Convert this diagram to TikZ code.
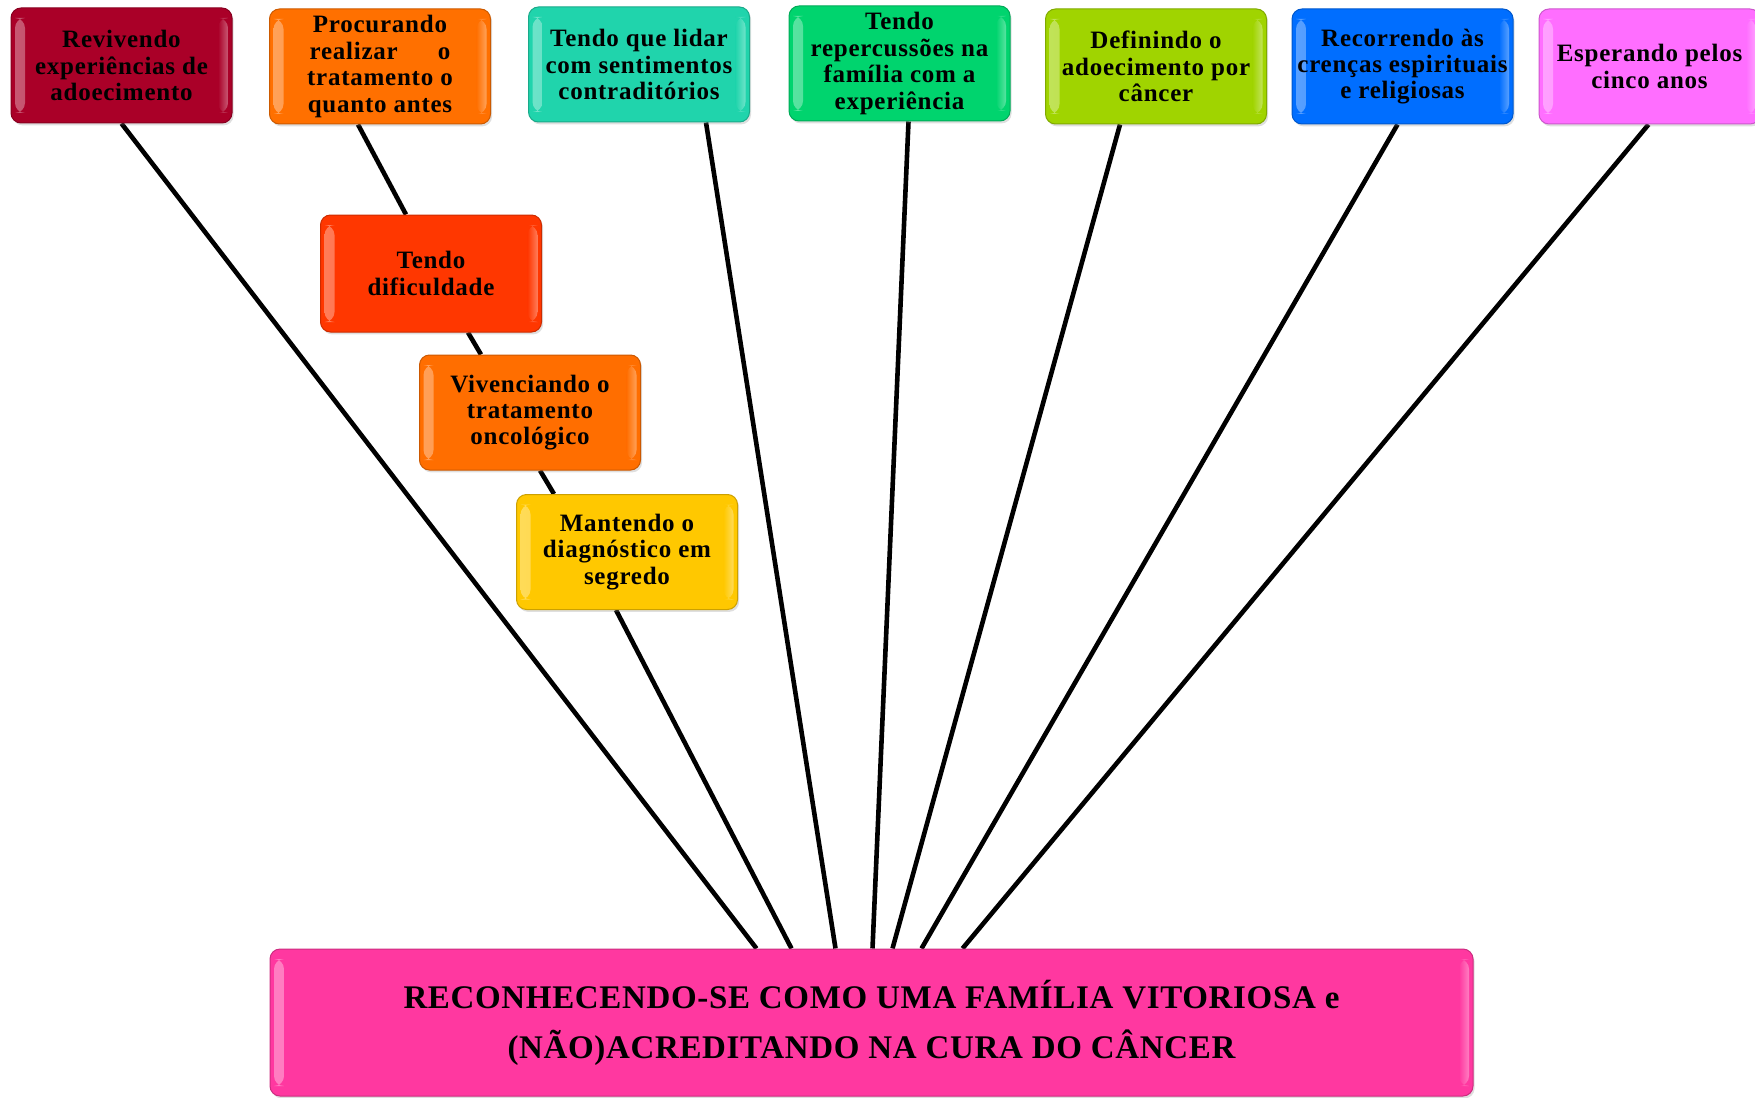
\documentclass[tikz,border=0pt]{standalone}
\usepackage{fontspec}
\setmainfont{Liberation Serif}
\usetikzlibrary{calc,shadows}

\definecolor{cRev}{RGB}{170,0,40}
\definecolor{cProc}{RGB}{255,112,0}
\definecolor{cLidar}{RGB}{32,212,172}
\definecolor{cRep}{RGB}{0,212,110}
\definecolor{cDef}{RGB}{160,212,0}
\definecolor{cRec}{RGB}{0,110,255}
\definecolor{cEsp}{RGB}{255,110,255}
\definecolor{cDif}{RGB}{255,55,0}
\definecolor{cViv}{RGB}{255,110,0}
\definecolor{cMant}{RGB}{255,200,0}
\definecolor{cMain}{RGB}{255,56,160}

\pgfdeclarelayer{bg}
\pgfsetlayers{bg,main}

\begin{document}
\begin{tikzpicture}[x=0.5pt,y=-0.5pt,
  card/.style={rounded corners=5pt, fill=#1, draw=#1!80!black, line width=0.5pt,
    inner sep=0pt, minimum width=110.5pt, minimum height=57.5pt, align=center,
    font=\bfseries\fontsize{12.5}{13.2}\selectfont\addfontfeature{LetterSpace=3},
    path picture={
      \fill[left color=white!35!#1, right color=#1]
        ([xshift=2pt,yshift=-5pt]path picture bounding box.north west) rectangle
        ([xshift=7pt,yshift=5pt]path picture bounding box.south west);
      \fill[left color=#1, right color=white!35!#1]
        ([xshift=-7pt,yshift=-5pt]path picture bounding box.north east) rectangle
        ([xshift=-2pt,yshift=5pt]path picture bounding box.south east);
    },
    drop shadow={opacity=0.25, shadow xshift=0.8pt, shadow yshift=-1.2pt}},
  link/.style={line width=2.3pt, black}]

\useasboundingbox (0,0) rectangle (1755,1097);

% top row of categories
\node[card=cRev]   (rev)   at (121.5,65.5)  {Revivendo\\experiências de\\adoecimento};
\node[card=cProc]  (proc)  at (380,66.5)    {Procurando\\realizar\hspace{1.6em}o\\tratamento o\\quanto antes};
\node[card=cLidar] (lidar) at (639,64.5)    {Tendo que lidar\\com sentimentos\\contraditórios};
\node[card=cRep]   (rep)   at (899.5,63.5)  {Tendo\\repercussões na\\família com a\\experiência};
\node[card=cDef]   (def)   at (1156,66.5)   {Definindo o\\adoecimento por\\câncer};
\node[card=cRec]   (rec)   at (1402.5,66.5) {Recorrendo às\\crenças espirituais\\e religiosas};
\node[card=cEsp]   (esp)   at (1649.5,66.5) {Esperando pelos\\cinco anos};

% chain of sub-categories
\node[card=cDif, minimum height=58.5pt] (dif)  at (431,273.5) {Tendo\\dificuldade};
\node[card=cViv]  (viv)  at (530,412.5) {Vivenciando o\\tratamento\\oncológico};
\node[card=cMant] (mant) at (627,552)   {Mantendo o\\diagnóstico em\\segredo};

% central category
\node[card=cMain, minimum width=601.5pt, minimum height=73.5pt,
      font=\bfseries\fontsize{16.5}{25}\selectfont\addfontfeature{LetterSpace=2}] (core) at (871.5,1022.5)
  {RECONHECENDO-SE COMO UMA FAMÍLIA VITORIOSA e\\(NÃO)ACREDITANDO NA CURA DO CÂNCER};

\begin{pgfonlayer}{bg}
  \draw[link] (rev.south) -- ($(core.north west)+(487,0)$);
  \draw[link] ($(proc.south west)+(89,0)$) -- ($(dif.north west)+(86,0)$);
  \draw[link] ($(dif.south west)+(148,0)$) -- ($(viv.north west)+(62,0)$);
  \draw[link] ($(viv.south west)+(121,0)$) -- ($(mant.north west)+(38,0)$);
  \draw[link] ($(mant.south west)+(100,0)$) -- ($(core.north west)+(522,0)$);
  \draw[link] ($(lidar.south west)+(178,0)$) -- ($(core.north west)+(566,0)$);
  \draw[link] ($(rep.south west)+(120,0)$) -- ($(core.north west)+(603,0)$);
  \draw[link] ($(def.south west)+(75,0)$) -- ($(core.north west)+(623,0)$);
  \draw[link] ($(rec.south west)+(106,0)$) -- ($(core.north west)+(652,0)$);
  \draw[link] ($(esp.south west)+(110,0)$) -- ($(core.north west)+(693,0)$);
\end{pgfonlayer}
\end{tikzpicture}
\end{document}
